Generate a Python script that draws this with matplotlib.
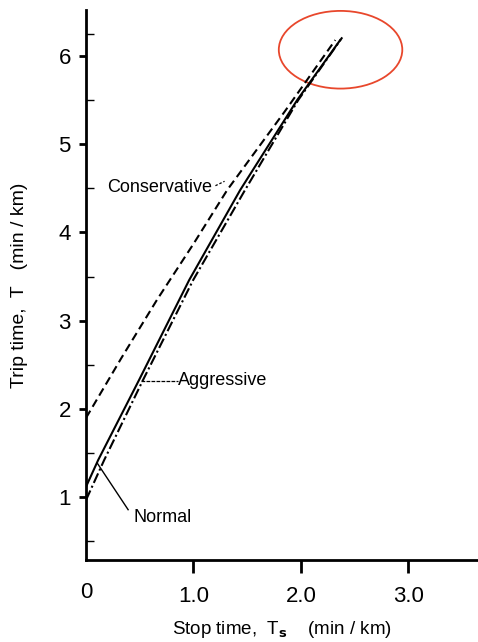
import numpy as np
import matplotlib
matplotlib.use("Agg")
import matplotlib.pyplot as plt
from matplotlib.patches import Ellipse

plt.rcParams['font.family'] = ['Liberation Sans', 'DejaVu Sans']

# curves: stop time Ts (min/km) -> trip time T (min/km)
cons_x = [0.0, 0.33, 0.662, 1.0, 1.314, 1.85, 2.321]
cons_y = [1.90, 2.58, 3.24, 3.87, 4.48, 5.37, 6.18]

norm_x = [0.0, 0.112, 0.494, 0.960, 1.435, 1.966, 2.367]
norm_y = [1.12, 1.42, 2.33, 3.46, 4.48, 5.50, 6.18]

aggr_x = [0.0, 0.168, 0.531, 0.997, 1.48, 1.976, 2.386]
aggr_y = [0.97, 1.42, 2.33, 3.46, 4.48, 5.50, 6.21]

yticks = [1, 2, 3, 4, 5, 6]
yminor = [0.5, 1.5, 2.5, 3.5, 4.5, 5.5, 6.25]
xticks = [1.0, 2.0, 3.0]
xtick_labels = ['1.0', '2.0', '3.0']

fig = plt.figure(figsize=(4.78, 6.42), dpi=100)
ax = fig.add_axes([0.18, 0.1277, 0.82, 0.8567])

ax.plot(cons_x, cons_y, color='black', lw=1.5, linestyle=(0, (4, 2.2)))
ax.plot(norm_x, norm_y, color='black', lw=1.5, linestyle='-')
ax.plot(aggr_x, aggr_y, color='black', lw=1.5, linestyle=(0, (5, 1.5, 1, 1.5)))

ax.set_xlim(0, 3.65)
ax.set_ylim(0.29, 6.52)

for s in ['top', 'right']:
    ax.spines[s].set_visible(False)
ax.spines['left'].set_linewidth(2)
ax.spines['bottom'].set_linewidth(2)

ax.set_yticks(yticks)
ax.set_yticklabels([str(v) for v in yticks])
ax.set_yticks(yminor, minor=True)
ax.tick_params(axis='y', which='major', direction='out', length=5, width=2, labelsize=16, pad=6)
ax.tick_params(axis='y', which='minor', direction='in', length=6, width=1)

ax.set_xticks(xticks)
ax.set_xticklabels(xtick_labels)
ax.tick_params(axis='x', which='major', direction='out', length=9, width=2, labelsize=16, pad=10)

ax.text(0.0, -0.08, '0', fontsize=16, ha='center', va='center',
        transform=ax.transData, clip_on=False)

ax.set_xlabel(r'Stop time,  T$_\mathbf{s}$    (min / km)', fontsize=13.5, labelpad=8)
ax.set_ylabel('Trip time,  T   (min / km)', fontsize=14, labelpad=22)

# labels with pointer lines
ax.text(0.196, 4.51, 'Conservative', fontsize=13, ha='left', va='center')
ax.plot([1.205, 1.29], [4.53, 4.58], color='black', lw=0.9, linestyle=(0, (2, 1.5)))
ax.text(0.857, 2.32, 'Aggressive', fontsize=13, ha='left', va='center')
ax.plot([0.513, 0.857], [2.32, 2.32], color='black', lw=0.9, linestyle=(0, (3, 1)))
ax.text(0.438, 0.77, 'Normal', fontsize=13, ha='left', va='center')
ax.plot([0.103, 0.392], [1.39, 0.86], color='black', lw=1.0)

# red highlight around the curve ends
ell = Ellipse((2.37, 6.07), 1.15, 0.88, fill=False, edgecolor='#e8472c', lw=1.3, clip_on=False)
ax.add_patch(ell)

fig.savefig('out.png', dpi=100)
